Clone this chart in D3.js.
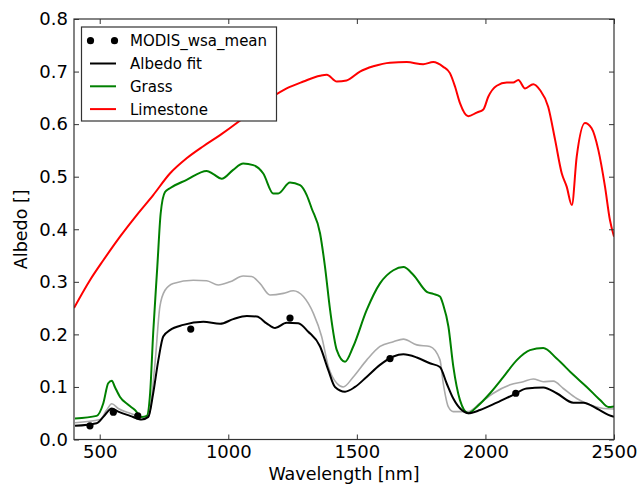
<!DOCTYPE html>
<html>
<head>
<meta charset="utf-8">
<script src="https://cdn.jsdelivr.net/npm/d3@7"></script>
<style>
  body { margin: 0; background: #fff; }
  svg { display: block; font-family: "DejaVu Sans", sans-serif; }
</style>
</head>
<body>
<svg id="chart" width="640" height="485"></svg>
<script>
// wavelengths [nm] and albedo values
const grassWl = [404,488,514,533,547,559,579,611,637,663,683,696,708,724,737,754,773,838,916,942,974,1019,1058,1097,1136,1175,1194,1240,1279,1305,1324,1357,1376,1396,1422,1454,1486,1538,1590,1642,1681,1720,1772,1797,1823,1836,1856,1875,1901,1933,1966,2018,2070,2122,2173,2225,2277,2342,2394,2446,2478,2500];
const grassVal = [0.040,0.045,0.069,0.107,0.112,0.100,0.081,0.066,0.056,0.043,0.045,0.088,0.203,0.329,0.430,0.471,0.478,0.494,0.511,0.505,0.496,0.513,0.525,0.522,0.506,0.468,0.468,0.489,0.484,0.465,0.440,0.392,0.329,0.246,0.170,0.148,0.177,0.246,0.297,0.322,0.328,0.313,0.281,0.277,0.272,0.256,0.215,0.139,0.075,0.050,0.062,0.088,0.119,0.151,0.170,0.174,0.154,0.123,0.100,0.075,0.062,0.063];

const limeWl = [400,462,514,579,644,708,773,838,903,968,1033,1097,1162,1227,1292,1357,1383,1422,1460,1512,1564,1629,1694,1758,1797,1836,1862,1882,1901,1933,1966,1992,2011,2044,2083,2108,2128,2154,2186,2212,2244,2271,2297,2316,2336,2355,2387,2413,2439,2465,2484,2500];
const limeVal = [0.250,0.303,0.341,0.386,0.427,0.465,0.506,0.535,0.558,0.579,0.602,0.627,0.649,0.668,0.681,0.692,0.694,0.681,0.683,0.700,0.710,0.717,0.718,0.714,0.718,0.709,0.697,0.671,0.640,0.615,0.622,0.628,0.652,0.673,0.679,0.679,0.684,0.668,0.676,0.665,0.633,0.570,0.506,0.481,0.446,0.538,0.602,0.592,0.551,0.481,0.418,0.386];

const greyWl = [404,501,527,547,572,618,663,689,715,734,754,786,864,916,961,1007,1058,1091,1123,1162,1214,1253,1292,1331,1363,1389,1422,1447,1486,1538,1590,1642,1681,1733,1784,1823,1836,1856,1875,1914,1933,1979,2031,2096,2147,2186,2225,2264,2303,2355,2407,2459,2500];
const greyVal = [0.032,0.038,0.056,0.068,0.059,0.050,0.043,0.043,0.145,0.253,0.284,0.297,0.303,0.302,0.294,0.300,0.311,0.310,0.297,0.275,0.278,0.283,0.272,0.240,0.196,0.139,0.107,0.100,0.119,0.151,0.177,0.186,0.191,0.180,0.177,0.152,0.107,0.062,0.053,0.053,0.053,0.069,0.088,0.104,0.110,0.115,0.110,0.111,0.097,0.078,0.066,0.059,0.058];

const fitWl = [404,488,514,547,572,618,663,689,708,728,747,773,825,903,968,1019,1072,1111,1149,1182,1227,1272,1311,1357,1389,1415,1454,1493,1538,1590,1642,1681,1733,1784,1823,1849,1875,1908,1933,1979,2044,2108,2160,2225,2277,2342,2381,2433,2478,2500];
const fitVal = [0.026,0.031,0.043,0.059,0.053,0.045,0.038,0.043,0.088,0.151,0.196,0.208,0.218,0.224,0.220,0.229,0.235,0.234,0.221,0.212,0.222,0.221,0.205,0.177,0.132,0.100,0.091,0.100,0.119,0.142,0.158,0.162,0.156,0.145,0.138,0.107,0.078,0.056,0.050,0.056,0.070,0.085,0.097,0.099,0.088,0.070,0.070,0.059,0.047,0.043];

const modisWl = [462,553,648,854,1240,1629,2118];
const modisVal = [0.026,0.052,0.045,0.210,0.231,0.154,0.088];

const xTicks = [500,1000,1500,2000,2500];
const yTicks = [0,0.1,0.2,0.3,0.4,0.5,0.6,0.7,0.8];

const legendItems = [
  {label: 'MODIS_wsa_mean', type: 'dots', color: '#000'},
  {label: 'Albedo fit', type: 'line', color: '#000'},
  {label: 'Grass', type: 'line', color: '#008000'},
  {label: 'Limestone', type: 'line', color: '#ff0000'}
];

const mLeft = 74, mRight = 614, mTop = 19, mBottom = 439.5;

const svg = d3.select('#chart');
const x = d3.scaleLinear().domain([400, 2500]).range([mLeft, mRight]);
const y = d3.scaleLinear().domain([0, 0.8]).range([mBottom, mTop]);

svg.append('defs').append('clipPath').attr('id', 'clip')
  .append('rect')
  .attr('x', mLeft).attr('y', mTop)
  .attr('width', mRight - mLeft).attr('height', mBottom - mTop);

const zip = (w, v) => w.map((d, i) => [d, v[i]]);
const line = d3.line()
  .x(d => x(d[0]))
  .y(d => y(d[1]))
  .curve(d3.curveMonotoneX);

const plot = svg.append('g').attr('clip-path', 'url(#clip)');

// series
const series = [
  {data: zip(greyWl, greyVal), color: '#aaaaaa', w: 1.6},
  {data: zip(limeWl, limeVal), color: '#ff0000', w: 2},
  {data: zip(grassWl, grassVal), color: '#008000', w: 2},
  {data: zip(fitWl, fitVal), color: '#000000', w: 2}
];

plot.selectAll('path.series')
  .data(series).enter()
  .append('path')
  .attr('class', 'series')
  .attr('d', d => line(d.data))
  .attr('fill', 'none')
  .attr('stroke', d => d.color)
  .attr('stroke-width', d => d.w)
  .attr('stroke-linejoin', 'round');

plot.selectAll('circle.modis')
  .data(zip(modisWl, modisVal)).enter()
  .append('circle')
  .attr('class', 'modis')
  .attr('cx', d => x(d[0]))
  .attr('cy', d => y(d[1]))
  .attr('r', 3.6)
  .attr('fill', '#000');

// axes, ticks inward on all four sides
const tickLen = 5;
const axisCol = '#333';

const xAxisB = d3.axisBottom(x).tickValues(xTicks).tickSizeInner(-tickLen).tickSizeOuter(0).tickPadding(6).tickFormat(d3.format('d'));
const xAxisT = d3.axisTop(x).tickValues(xTicks).tickSizeInner(-tickLen).tickSizeOuter(0).tickFormat('');
const yAxisL = d3.axisLeft(y).tickValues(yTicks).tickSizeInner(-tickLen).tickSizeOuter(0).tickPadding(6).tickFormat(d3.format('.1f'));
const yAxisR = d3.axisRight(y).tickValues(yTicks).tickSizeInner(-tickLen).tickSizeOuter(0).tickFormat('');

function styleAxis(g) {
  g.select('.domain').remove();
  g.selectAll('.tick line').attr('stroke', axisCol);
  g.selectAll('text').attr('fill', '#000').style('font-size', '18px').style('font-family', '"DejaVu Sans", sans-serif');
}

svg.append('g').attr('transform', `translate(0,${mBottom})`).call(xAxisB).call(styleAxis);
svg.append('g').attr('transform', `translate(0,${mTop})`).call(xAxisT).call(styleAxis);
svg.append('g').attr('transform', `translate(${mLeft},0)`).call(yAxisL).call(styleAxis);
svg.append('g').attr('transform', `translate(${mRight},0)`).call(yAxisR).call(styleAxis);

svg.append('rect')
  .attr('x', mLeft).attr('y', mTop)
  .attr('width', mRight - mLeft).attr('height', mBottom - mTop)
  .attr('fill', 'none')
  .attr('stroke', axisCol)
  .attr('stroke-width', 1.2);

// axis labels
svg.append('text')
  .attr('x', (mLeft + mRight) / 2)
  .attr('y', 479.5)
  .attr('text-anchor', 'middle')
  .style('font-size', '17.5px')
  .text('Wavelength [nm]');

svg.append('text')
  .attr('transform', `translate(27,${(mTop + mBottom) / 2}) rotate(-90)`)
  .attr('text-anchor', 'middle')
  .style('font-size', '17.5px')
  .text('Albedo []');

// legend
const legend = svg.append('g');
legend.append('rect')
  .attr('x', 81.5).attr('y', 27)
  .attr('width', 195).attr('height', 94)
  .attr('fill', '#fff')
  .attr('stroke', axisCol)
  .attr('stroke-width', 1.2);

const rows = legend.selectAll('g.item')
  .data(legendItems).enter()
  .append('g')
  .attr('class', 'item')
  .attr('transform', (d, i) => `translate(0,${40.7 + i * 22.8})`);

rows.filter(d => d.type === 'line')
  .append('line')
  .attr('x1', 90).attr('x2', 116)
  .attr('stroke', d => d.color)
  .attr('stroke-width', 2);

rows.filter(d => d.type === 'dots')
  .selectAll('circle')
  .data(d => [90.5, 114.5].map(cx => ({cx, color: d.color}))).enter()
  .append('circle')
  .attr('cx', d => d.cx)
  .attr('r', 3.6)
  .attr('fill', d => d.color);

rows.append('text')
  .attr('x', 130)
  .attr('dy', '0.36em')
  .style('font-size', '15px')
  .text(d => d.label);
</script>
</body>
</html>
